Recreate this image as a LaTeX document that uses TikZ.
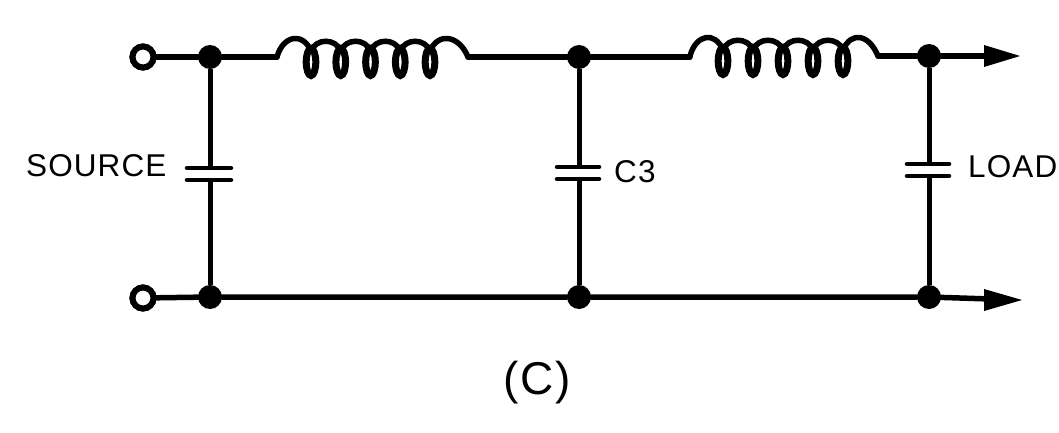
\documentclass[tikz,border=0pt]{standalone}
\usepackage{fontspec}
\setmainfont[LetterSpace=3.5]{Liberation Sans}
\newfontfamily\plainf[LetterSpace=4]{Liberation Sans}
\tikzset{
  wire/.style={line width=5.5pt,black,line cap=round},
  thin wire/.style={line width=5pt,black},
  dot/.style={circle,fill=black,inner sep=0pt,minimum size=24pt},
  term/.style={circle,draw=black,fill=white,line width=6pt,inner sep=0pt,minimum size=21pt},
  plate/.style={line width=4.5pt,black,line cap=round},
  loop/.style={line width=7pt,black},
  tip/.style={fill=black,draw=none},
  lab/.style={inner sep=0pt,anchor=base west,font=\fontsize{31.5}{33}\selectfont},
}
\newcommand{\coil}[5]{% start x, end x, first loop, pitch, y of line
  \foreach \i in {0,...,4} {
    \pgfmathsetmacro{\cx}{#3+\i*#4}
    \draw[loop] (\cx,#5+5) ellipse (4.8pt and 13.5pt);
  }
  \foreach \i in {0,...,3} {
    \pgfmathsetmacro{\ca}{#3+\i*#4}
    \pgfmathsetmacro{\cb}{#3+\i*#4+#4}
    \draw[wire] (\ca,#5-6) .. controls (\ca+5,#5-19) and (\cb-5,#5-19) .. (\cb,#5-6);
  }
  \pgfmathsetmacro{\fx}{#3}
  \pgfmathsetmacro{\lx}{#3+4*#4}
  \draw[wire] (#1,#5) .. controls (#1+6,#5-22) and (\fx-8,#5-25) .. (\fx,#5-6);
  \draw[wire] (\lx,#5-6) .. controls (\lx+8,#5-25) and (#2-9,#5-22) .. (#2,#5);
}
\begin{document}
\begin{tikzpicture}[x=1pt,y=-1pt]
\useasboundingbox (0,0) rectangle (1059,433);
\node[term] (t1) at (143,57) {};
\node[term] (t2) at (143,298) {};
\node[dot] (a1) at (210,57) {};
\node[dot] (b1) at (579,57) {};
\node[dot] (c1) at (929,56) {};
\node[dot] (a2) at (210,297) {};
\node[dot] (b2) at (579,297) {};
\node[dot] (c2) at (929,297) {};
\coordinate (l1s) at (277,57);
\coordinate (l1e) at (468,57);
\coordinate (l2s) at (690,57);
\coordinate (l2e) at (878,56);
\coordinate (e1) at (990,56);
\coordinate (e2) at (990,299);
\coordinate (cat) at (210,168);
\coordinate (cab) at (210,180);
\coordinate (cbt) at (579,167);
\coordinate (cbb) at (579,179);
\coordinate (cct) at (929,164);
\coordinate (ccb) at (929,176);
% wires
\draw[wire] (t1) -- (a1) -- (l1s);
\draw[wire] (l1e) -- (b1) -- (l2s);
\draw[wire] (l2e) -- (c1) -- (e1);
\draw[wire] (t2) -- (a2) -- (b2) -- (c2) -- (e2);
\node[term] at (t1) {};
\node[term] at (t2) {};
\coil{277}{468}{311}{29.75}{57}
\coil{690}{878}{723}{30}{56}
% capacitors
\draw[thin wire] (a1) -- (cat);
\draw[thin wire] (cab) -- (a2);
\draw[thin wire] (b1) -- (cbt);
\draw[thin wire] (cbb) -- (b2);
\draw[thin wire] (c1) -- (cct);
\draw[thin wire] (ccb) -- (c2);
\draw[plate] (187,168) -- (231,168);
\draw[plate] (187,180) -- (231,180);
\draw[plate] (557,167) -- (599,167);
\draw[plate] (557,179) -- (599,179);
\draw[plate] (907,164) -- (949,164);
\draw[plate] (907,176) -- (949,176);
% arrow tips
\fill[tip] (984,45) -- (1020,56) -- (984,67) -- cycle;
\fill[tip] (984,289) -- (1022,300) -- (984,311) -- cycle;
% labels
\node[lab] (source) at (26,176) {SOURCE};
\node[lab] (c3) at (614,182) {C3};
\node[lab] (load) at (968,177) {LOAD};
\node[inner sep=0pt,font=\plainf\fontsize{46}{48}\selectfont] (cap) at (537,383) {(C)};
\end{tikzpicture}
\end{document}
